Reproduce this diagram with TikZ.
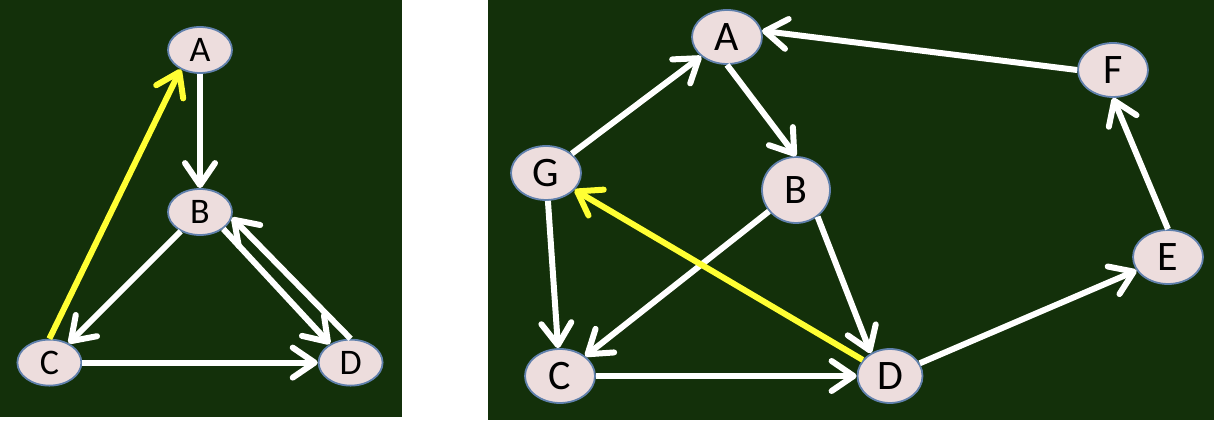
\documentclass[tikz,border=0pt]{standalone}
\usepackage{fontspec}
\setmainfont{Carlito}
\usepackage{tikz}
\usetikzlibrary{shapes.geometric}
\usetikzlibrary{positioning}
\usetikzlibrary{arrows.meta}
\definecolor{board}{RGB}{19,48,10}
\definecolor{nodefill}{RGB}{237,221,221}
\definecolor{nodeedge}{RGB}{96,128,172}
\definecolor{hotpath}{RGB}{255,255,51}
\tikzset{
    x=1pt, y=1pt,
    node distance=213pt, % Diagonal distance between the small nodes
    vertex/.style={ % Nodes of the left graph
        ellipse,
        draw=nodeedge,
        line width=1.8pt,
        fill=nodefill,
        minimum width=64pt,
        minimum height=46pt,
        inner sep=0pt,
        font=\fontsize{36}{36}\selectfont
    },
    big vertex/.style={ % Nodes of the right graph
        vertex,
        minimum width=70pt,
        minimum height=54pt,
        font=\fontsize{42}{42}\selectfont
    },
    hot/.style={draw=hotpath}, % Highlighted back edge
    every edge/.style={ % Sets the properties for each edge
        draw=white,
        line width=6pt,
        -{Straight Barb[length=22pt,width=30pt,line width=0pt 1,round]}
    }
}
\begin{document}
\begin{tikzpicture}
            \useasboundingbox (0,0) rectangle (1214,420);
            \fill[white] (0,0) rectangle (1214,420);
            \fill[board] (0,3) rectangle (402,420);
            \fill[board] (488,0) rectangle (1214,420);

            % left graph
            \node[vertex] (B1) at (200,208) {B};
            \node[vertex, above of=B1, node distance=162pt] (A1) {A};
            \node[vertex, below left of=B1] (C1) {C};
            \node[vertex, below right of=B1] (D1) {D};

            \draw (A1) edge (B1);
            \draw (B1) edge (C1);
            \draw (B1.-36) edge (D1.138);
            \draw (D1.north) edge (B1.-10);
            \draw (C1) edge (D1);
            \draw (C1.north) edge[hot] (A1.-135);

            % right graph
            \node[big vertex] (A2) at (727,383) {A};
            \node[big vertex] (G2) at (546,247) {G};
            \node[big vertex, minimum width=68pt, minimum height=66pt] (B2) at (796,230) {B};
            \node[big vertex] (C2) at (560,44) {C};
            \node[big vertex, minimum width=65pt] (D2) at (890,44) {D};
            \node[big vertex] (E2) at (1168,163) {E};
            \node[big vertex] (F2) at (1113,350) {F};

            \draw (G2) edge (A2);
            \draw (A2.south) edge (B2.north);
            \draw (G2) edge (C2);
            \draw (B2) edge (C2);
            \draw (B2.-51) edge (D2.130);
            \draw (C2) edge (D2);
            \draw (D2) edge (E2);
            \draw (E2.north) edge (F2.south);
            \draw (F2.west) edge (A2.10);
            \draw (D2) edge[hot] (G2);

        \end{tikzpicture}
\end{document}
